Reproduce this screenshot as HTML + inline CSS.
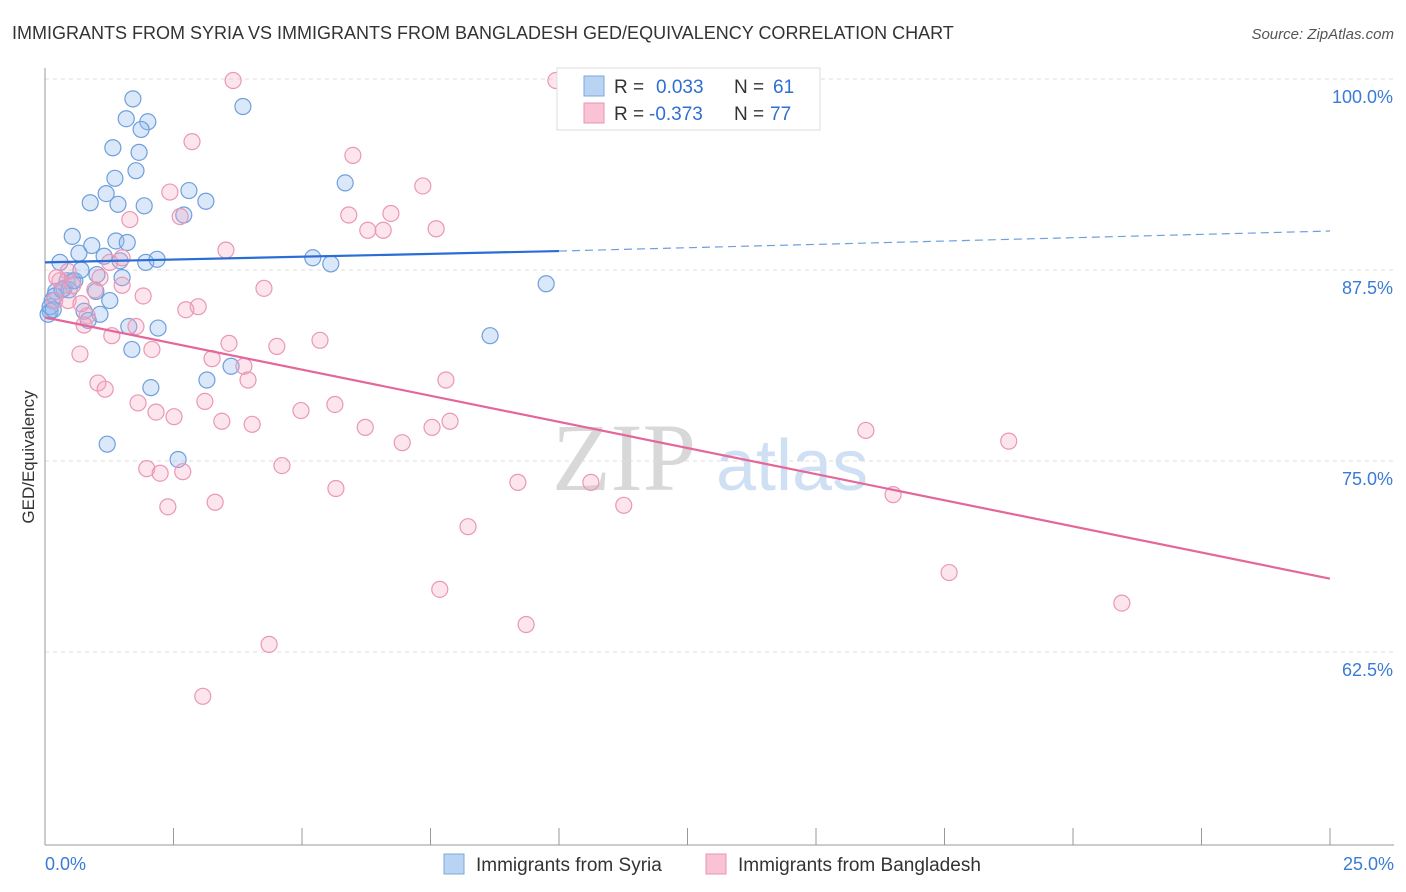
<!DOCTYPE html>
<html><head><meta charset="utf-8"><style>
body{margin:0;background:#fff;font-family:"Liberation Sans",sans-serif;}
svg{display:block}
</style></head><body>
<svg id="chart" width="1406" height="892" viewBox="0 0 1406 892" xmlns="http://www.w3.org/2000/svg">
<text x="12" y="39" font-size="18" fill="#333">IMMIGRANTS FROM SYRIA VS IMMIGRANTS FROM BANGLADESH GED/EQUIVALENCY CORRELATION CHART</text>
<text x="1394" y="39" font-size="15" fill="#555" text-anchor="end" font-style="italic">Source: ZipAtlas.com</text>
<g>
<text x="552" y="490" font-size="96" font-family="Liberation Serif,serif" fill="#d8d8d8">ZIP</text>
<text x="716" y="490" font-size="72" fill="#cfe0f4">atlas</text>
</g>
<g id="grid"></g>
<g id="axes"></g>
<g id="marks"></g>
<text transform="translate(34,457) rotate(-90)" font-size="17" fill="#333" text-anchor="middle">GED/Equivalency</text>
<g>
<rect x="557" y="68" width="263" height="62" fill="#fff" stroke="#ddd"/>
<rect x="584" y="76" width="20" height="20" fill="#b9d3f3" stroke="#7aa8e0"/>
<text x="614" y="93" font-size="19" fill="#333">R = </text><text x="656" y="93" font-size="19" fill="#2f6fd0">0.033</text>
<text x="734" y="93" font-size="19" fill="#333">N = </text><text x="773" y="93" font-size="19" fill="#2f6fd0">61</text>
<rect x="584" y="103" width="20" height="20" fill="#f8c3d4" stroke="#e896b3"/>
<text x="614" y="120" font-size="19" fill="#333">R = </text><text x="649" y="120" font-size="19" fill="#2f6fd0">-0.373</text>
<text x="734" y="120" font-size="19" fill="#333">N = </text><text x="770" y="120" font-size="19" fill="#2f6fd0">77</text>
</g>
<g>
<rect x="444" y="854" width="20" height="20" fill="#b9d3f3" stroke="#7aa8e0"/>
<text x="476" y="871" font-size="19" fill="#333">Immigrants from Syria</text>
<rect x="706" y="854" width="20" height="20" fill="#f8c3d4" stroke="#e896b3"/>
<text x="738" y="871" font-size="19" fill="#333">Immigrants from Bangladesh</text>
</g>
</svg>
<script>
const blueX=[1.71,1.58,2.00,1.87,1.32,1.83,3.85,1.77,1.36,1.19,2.80,0.88,1.42,1.93,3.13,2.70,5.84,0.53,0.91,1.38,1.60,0.66,1.15,1.46,1.96,2.18,5.21,5.56,0.29,1.01,1.50,0.43,0.54,0.37,0.21,0.99,1.26,0.76,1.07,0.14,0.10,0.06,9.75,1.63,2.20,8.66,1.69,3.62,3.15,2.06,1.21,2.59,0.47,0.84,0.10,0.19,0.58,0.33,0.70,0.16];
const blueY=[98.7,97.4,97.2,96.7,95.5,95.2,98.2,94.0,93.5,92.5,92.7,91.9,91.8,91.7,92.0,91.1,93.2,89.7,89.1,89.4,89.3,88.6,88.4,88.1,88.0,88.2,88.3,87.9,88.0,87.2,87.0,86.8,86.8,86.3,86.1,86.1,85.5,84.8,84.6,85.5,84.8,84.6,86.6,83.8,83.7,83.2,82.3,81.2,80.3,79.8,76.1,75.1,86.2,84.2,85.1,85.8,86.8,86.2,87.5,84.9];
const pinkX=[3.66,9.94,2.86,5.99,7.35,2.43,2.63,5.91,6.73,1.65,6.28,6.58,7.61,3.52,1.50,0.45,1.07,4.26,1.91,2.98,2.74,0.19,0.82,1.30,1.77,0.76,3.58,4.51,5.35,0.68,2.08,3.25,3.87,3.95,7.80,1.03,1.17,1.81,3.11,2.16,2.51,3.44,4.03,4.98,5.64,6.23,6.95,7.53,7.88,15.97,18.75,1.98,2.24,2.68,4.61,5.66,9.20,10.62,3.31,2.39,11.26,16.50,8.23,17.59,7.68,20.95,9.36,4.36,3.07,0.54,0.29,0.97,1.50,0.45,0.70,1.26,0.23];
const pinkY=[99.9,99.9,95.9,95.0,93.0,92.6,91.0,91.1,91.2,90.8,90.1,90.1,90.2,88.8,88.3,87.4,87.0,86.3,85.8,85.1,84.9,85.5,84.5,83.2,83.8,83.9,82.7,82.5,82.9,82.0,82.3,81.7,81.2,80.3,80.3,80.1,79.7,78.8,78.9,78.2,77.9,77.6,77.4,78.3,78.7,77.2,76.2,77.2,77.6,77.0,76.3,74.5,74.2,74.3,74.7,73.2,73.6,73.6,72.3,72.0,72.1,72.8,70.7,67.7,66.6,65.7,64.3,63.0,59.6,86.5,86.8,86.2,86.5,85.5,85.3,88.0,87.0];
const blueTrend=[88.0,88.74,90.05];
const blueTrendX=[0,10,25];
const pinkTrend=[84.4,67.3];
const pinkTrendX=[0,25];
const yTicks=[100,87.5,75,62.5];
const yTickLabels=["100.0%","87.5%","75.0%","62.5%"];
const xTicks=[0,2.5,5,7.5,10,12.5,15,17.5,20,22.5,25];
const NS="http://www.w3.org/2000/svg";
function sx(v){return 45+v*51.4;}
function sy(v){return 79+(100-v)*15.28;}
function mk(tag,attrs,parent){const e=document.createElementNS(NS,tag);for(const k in attrs)e.setAttribute(k,attrs[k]);parent.appendChild(e);return e;}
const grid=document.getElementById('grid'),axes=document.getElementById('axes'),marks=document.getElementById('marks');
yTicks.forEach((t,i)=>{
 const l=mk('line',{x1:45,x2:1394,y1:sy(t),y2:sy(t),stroke:'#ddd','stroke-dasharray':'4,4'},grid);
 
 
 const tx=mk('text',{x:1393,y:sy(t)+24,'font-size':18,fill:'#3a7bd5','text-anchor':'end'},axes);
 tx.textContent=yTickLabels[i];
 
 
});
const xa=mk('line',{x1:45,x2:1394,y1:845,y2:845,stroke:'#999'},axes);


const ya=mk('line',{x1:45,x2:45,y1:68,y2:845,stroke:'#999'},axes);


xTicks.forEach(t=>{
 const l=mk('line',{x1:sx(t),x2:sx(t),y1:828,y2:845,stroke:'#999'},axes);
 
 
});
const xl0=mk('text',{x:45,y:870,'font-size':18,fill:'#3a7bd5'},axes);xl0.textContent=xTicks[0].toFixed(1)+'%';


const xl1=mk('text',{x:1394,y:870,'font-size':18,fill:'#3a7bd5','text-anchor':'end'},axes);xl1.textContent=xTicks[xTicks.length-1].toFixed(1)+'%';


blueX.forEach((x,i)=>{
 const c=mk('circle',{cx:sx(x),cy:sy(blueY[i]),r:8,fill:'rgba(150,190,240,0.35)',stroke:'#6f9fdc','stroke-width':1.2},marks);
 
 
});
pinkX.forEach((x,i)=>{
 const c=mk('circle',{cx:sx(x),cy:sy(pinkY[i]),r:8,fill:'rgba(245,170,195,0.3)',stroke:'#ea97b5','stroke-width':1.2},marks);
 
 
});
const b1=mk('line',{x1:sx(blueTrendX[0]),y1:sy(blueTrend[0]),x2:sx(blueTrendX[1]),y2:sy(blueTrend[1]),stroke:'#2a6dd4','stroke-width':2.2},marks);


const b2=mk('line',{x1:sx(blueTrendX[1]),y1:sy(blueTrend[1]),x2:sx(blueTrendX[2]),y2:sy(blueTrend[2]),stroke:'#6f9fdc','stroke-width':1.2,'stroke-dasharray':'8,5'},marks);


const p1=mk('line',{x1:sx(pinkTrendX[0]),y1:sy(pinkTrend[0]),x2:sx(pinkTrendX[1]),y2:sy(pinkTrend[1]),stroke:'#e5679a','stroke-width':2.2},marks);


</script>
</body></html>
